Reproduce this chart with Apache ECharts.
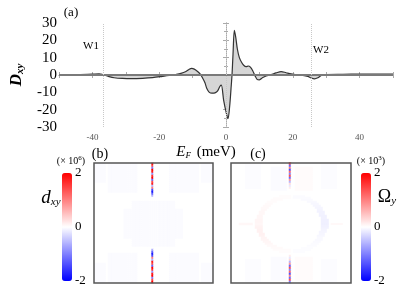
<!DOCTYPE html>
<html><head><meta charset="utf-8">
<script src="https://cdn.jsdelivr.net/npm/echarts@6/dist/echarts.min.js"></script>
<style>html,body{margin:0;padding:0;background:#fff}#c{width:416px;height:293px}</style>
</head><body><div id="c"></div>
<script>
// ---- panel (a): D_xy versus E_F ----
const energy = [-50,-45,-40,-38,-37,-36,-35,-33.5,-31,-28,-25,-22,-19,-17,-15,-13.5,-12,-11,-10.3,-9.5,-8.5,-7.7,-7,-6.3,-5.7,-5,-4.2,-3.3,-2.5,-1.8,-1.4,-0.7,0.1,0.6,1.1,1.5,1.8,2.1,2.5,2.9,3.4,4,4.7,5.3,6,6.7,7.3,8,8.7,9.3,10,11,12,13.5,15,16.5,18,19.5,21,23,24.5,25.5,26.5,27.5,28.5,30,35,40,45,50];
const dxy    = [0.3,0.3,0.5,0.6,0.3,-0.2,-0.9,-1.6,-2.0,-2.1,-1.9,-1.5,-0.8,-0.3,0.3,0.9,2.0,3.3,3.8,3.4,2.0,0.5,-1.8,-4.5,-8,-10,-10.5,-10.3,-9.2,-6.5,-5.8,-14.6,-22,-25.2,-18,-8,0,12,25.8,22,15,10,7.2,5.6,4.8,5.2,4.5,2.5,-0.5,-2.5,-2.8,-1.5,-0.6,0.2,1.2,2.0,1.3,0.6,0.1,-0.2,-0.8,-1.7,-2.2,-1.6,-0.3,0.3,0.4,0.5,0.5,0.5];
const markerEnergies = [-36.7, 0, 25.4];
const markerNames = ['W1', '', 'W2'];
const energyTickLabels = [-40, -20, 0, 20, 40];
const dxyTicks = [-30, -20, -10, 0, 10, 20, 30];
const colorbarTicks = [-2, 0, 2];

// ---- panels (b) and (c): k-space maps, 60 x 60 cells (row 0 = top) ----
const mapSize = 60;
// [colStart, colEnd, rowStart, rowEnd, value]
const dxyPatches = [[0,5,0,9,-0.035],[7,21,0,14,-0.035],[38,52,0,14,-0.035],[54,59,0,9,-0.035],
  [19,40,19,41,-0.03],[15,44,23,37,-0.03],[7,21,45,59,-0.035],[38,52,45,59,-0.035],[0,5,50,59,-0.035],[54,59,50,59,-0.035]];
const dxyStreakCol = 29;
const dxyStreakTop = [2,1.4,-1,2,1.8,-0.8,1.6,2,-1.2,1.4,1.8,-0.6,1.0,-1.4,-1.8,-1.2,-0.6];      // rows 0..16
const dxyStreakBottom = [-0.6,-1.2,-1.8,-1.4,1.0,-0.6,1.8,1.4,-1.2,2,1.6,-0.8,1.8,2,-1,1.4,2];    // rows 43..59
const omegaPatches = [[7,14,0,12,-0.025],[45,52,0,12,-0.025],[7,14,48,59,-0.025],[45,52,48,59,-0.025],
  [32,40,2,13,0.03],[20,27,2,13,-0.03],[32,40,47,58,0.03],[20,27,47,58,-0.03],[4,10,30,30,0.06],[50,55,30,30,0.07]];
// [row, leftStart, leftEnd, leftValue, rightStart, rightEnd, rightValue]
const omegaRing = [
  [16,24,29,0.02,31,36,-0.02],[17,21,29,0.025,31,39,-0.03],[18,20,25,0.03,35,40,-0.04],[19,18,22,0.035,38,42,-0.05],
  [20,17,20,0.04,40,43,-0.06],[21,16,19,0.045,41,44,-0.07],[22,15,18,0.05,42,45,-0.08],[23,15,17,0.055,43,45,-0.09],
  [24,14,16,0.06,43,46,-0.1],[25,14,16,0.065,44,46,-0.1],[26,13,15,0.07,44,47,-0.11],[27,13,15,0.07,45,47,-0.11],
  [28,12,15,0.075,45,48,-0.12],[29,12,15,0.08,45,48,-0.12],[30,12,15,0.07,45,48,-0.13],[31,12,15,0.09,45,48,-0.11],
  [32,12,15,0.1,45,48,-0.1],[33,13,15,0.11,45,47,-0.09],[34,13,15,0.11,44,47,-0.08],[35,14,16,0.11,44,46,-0.07],
  [36,14,16,0.1,43,46,-0.06],[37,15,17,0.09,43,45,-0.05],[38,15,18,0.08,42,45,-0.045],[39,16,19,0.07,41,44,-0.04],
  [40,17,20,0.06,40,43,-0.035],[41,18,22,0.05,38,42,-0.03],[42,20,25,0.04,35,40,-0.025],[43,21,29,0.03,31,39,-0.02],
  [44,24,29,0.02,31,36,-0.02]];
const omegaStreakCol = 29;
const omegaStreakTop = [1.4,-1.2,1.0,-1.4,1.2,-1.0,1.4,-1.2,0.8,-0.6,0.3,-0.2,0.15];          // rows 0..12
const omegaStreakBottom = [0.15,-0.2,0.3,-0.6,0.8,-1.2,1.4,-1.0,1.2,-1.4,1.0,-1.2,1.4,-1.0];  // rows 46..59

function buildMap(patches, ring, col, top, topStart, bottom, bottomStart) {
  const m = [];
  for (let r = 0; r < mapSize; r++) { m.push(new Array(mapSize).fill(0)); }
  patches.forEach(([c0, c1, r0, r1, v]) => {
    for (let r = r0; r <= r1; r++) for (let c = c0; c <= c1; c++) m[r][c] = v;
  });
  ring.forEach(([r, l0, l1, lv, q0, q1, qv]) => {
    for (let c = l0; c <= l1; c++) m[r][c] = lv;
    for (let c = q0; c <= q1; c++) m[r][c] = qv;
  });
  top.forEach((v, i) => { m[topStart + i][col] = v; });
  bottom.forEach((v, i) => { m[bottomStart + i][col] = v; });
  const out = [];
  for (let r = 0; r < mapSize; r++) for (let c = 0; c < mapSize; c++) out.push([c, r, m[r][c]]);
  return out;
}
const dxyMap = buildMap(dxyPatches, [], dxyStreakCol, dxyStreakTop, 0, dxyStreakBottom, 43);
const omegaMap = buildMap(omegaPatches, omegaRing, omegaStreakCol, omegaStreakTop, 0, omegaStreakBottom, 46);
const cats = Array.from({length: mapSize}, (_, i) => i);

const serif = '"Liberation Serif", "Times New Roman", serif';
const frame = '#aaaaaa';
const chart = echarts.init(document.getElementById('c'), null, {renderer: 'canvas'});

function mapAxes(g) {
  return {
    x: {type: 'category', gridIndex: g, data: cats, show: false},
    y: {type: 'category', gridIndex: g, data: cats, show: false, inverse: true}
  };
}
const mb = mapAxes(1), mc = mapAxes(2);
const labelStyle = (size, color) => ({fontFamily: serif, fontSize: size, color: color});

const option = {
  animation: false,
  backgroundColor: '#fff',
  textStyle: {fontFamily: serif},
  grid: [
    {left: 58, top: 23, width: 335, height: 104},
    {left: 94, top: 163, width: 119, height: 120, show: true, z: 5, borderColor: '#555', borderWidth: 1.5, backgroundColor: 'transparent'},
    {left: 231, top: 163, width: 120, height: 120, show: true, z: 5, borderColor: '#555', borderWidth: 1.5, backgroundColor: 'transparent'},
    {left: 62, top: 173, width: 10, height: 108},
    {left: 361, top: 173, width: 10, height: 108}
  ],
  xAxis: [
    {type: 'value', gridIndex: 0, min: -50, max: 50, interval: 10,
     axisLine: {show: true, lineStyle: {color: frame, width: 1}},
     axisTick: {show: true, inside: true, length: 3, lineStyle: {color: frame}},
     splitLine: {show: false},
     axisLabel: Object.assign({margin: 6, formatter: v => energyTickLabels.includes(v) ? String(v) : ''}, labelStyle(9, '#555')),
     name: '{e|E}{s|F} (meV)', nameLocation: 'middle', nameGap: 17,
     nameTextStyle: {fontFamily: serif, fontSize: 15, color: '#000', padding: [0, 40, 0, 0],
       rich: {e: {fontFamily: serif, fontSize: 15, fontStyle: 'italic', color: '#000'},
              s: {fontFamily: serif, fontSize: 9, fontStyle: 'italic', color: '#000', padding: [7, 2, 0, 0]}}}},
    {type: 'value', gridIndex: 0, min: -50, max: 50, interval: 10, position: 'top',
     axisLine: {show: true, lineStyle: {color: frame, width: 1}},
     axisTick: {show: true, inside: true, length: 3, lineStyle: {color: frame}},
     axisLabel: {show: false}, splitLine: {show: false}},
    mb.x, mc.x,
    {type: 'value', gridIndex: 3, show: false, min: 0, max: 1},
    {type: 'value', gridIndex: 4, show: false, min: 0, max: 1}
  ],
  yAxis: [
    {type: 'value', gridIndex: 0, min: -30, max: 30, interval: 10,
     axisLine: {show: true, lineStyle: {color: frame, width: 1}},
     axisTick: {show: true, inside: true, length: 3, lineStyle: {color: frame}},
     minorTick: {show: true, splitNumber: 2, length: 2, lineStyle: {color: frame}},
     splitLine: {show: false},
     axisLabel: Object.assign({margin: 2, formatter: v => dxyTicks.includes(v) ? String(v) : ''}, labelStyle(15, '#000')),
     name: '{d|D}{s|xy}', nameLocation: 'middle', nameRotate: 90, nameGap: 33,
     nameTextStyle: {rich: {d: {fontFamily: serif, fontSize: 17, fontWeight: 'bold', fontStyle: 'italic', color: '#000'},
                            s: {fontFamily: serif, fontSize: 11, fontWeight: 'bold', fontStyle: 'italic', color: '#000', padding: [8, 0, 0, 0]}}}},
    {type: 'value', gridIndex: 0, min: -30, max: 30, interval: 10, position: 'right',
     axisLine: {show: true, lineStyle: {color: frame, width: 1}},
     axisTick: {show: true, inside: true, length: 3, lineStyle: {color: frame}},
     minorTick: {show: true, splitNumber: 2, length: 2, lineStyle: {color: frame}},
     axisLabel: {show: false}, splitLine: {show: false}},
    mb.y, mc.y,
    {type: 'value', gridIndex: 3, min: -2, max: 2, interval: 2, position: 'right',
     axisLine: {show: false}, axisTick: {show: false}, splitLine: {show: false},
     axisLabel: Object.assign({margin: 3, formatter: v => colorbarTicks.includes(v) ? String(v) : ''}, labelStyle(13, '#000'))},
    {type: 'value', gridIndex: 4, min: -2, max: 2, interval: 2, position: 'right',
     axisLine: {show: false}, axisTick: {show: false}, splitLine: {show: false},
     axisLabel: Object.assign({margin: 3, formatter: v => colorbarTicks.includes(v) ? String(v) : ''}, labelStyle(13, '#000'))}
  ],
  visualMap: [
    {type: 'continuous', seriesIndex: 1, min: -2, max: 2, calculable: false, show: true,
     orient: 'vertical', left: 62, top: 173, itemWidth: 10, itemHeight: 108, padding: 0,
     inRange: {color: ['#0000ff', '#ffffff', '#ff0000']}},
    {type: 'continuous', seriesIndex: 2, min: -2, max: 2, calculable: false, show: true,
     orient: 'vertical', left: 361, top: 173, itemWidth: 10, itemHeight: 108, padding: 0,
     inRange: {color: ['#0000ff', '#ffffff', '#ff0000']}}
  ],
  series: [
    {type: 'line', xAxisIndex: 0, yAxisIndex: 0, smooth: 0.3, symbol: 'none',
     data: energy.map((e, i) => [e, dxy[i]]),
     lineStyle: {color: '#333', width: 1.2},
     areaStyle: {color: '#d6d6d6', origin: 0, opacity: 1},
     markLine: {silent: true, symbol: 'none', animation: false, label: {show: false},
       data: [{yAxis: 0, lineStyle: {color: '#7a7a7a', width: 2, type: 'solid'}}]
         .concat(markerEnergies.map(e => ({xAxis: e, lineStyle: {color: '#c8c8c8', width: 1, type: 'dotted'}})))}},
    {type: 'heatmap', xAxisIndex: 2, yAxisIndex: 2, data: dxyMap, emphasis: {disabled: true}},
    {type: 'heatmap', xAxisIndex: 3, yAxisIndex: 3, data: omegaMap, emphasis: {disabled: true}}
  ],
  graphic: [
    {type: 'text', x: 71, y: 13, style: {text: '(a)', font: '13px "Liberation Serif"', fill: '#000', align: 'center', verticalAlign: 'middle'}},
    {type: 'text', x: 91, y: 46, style: {text: markerNames[0], font: '11px "Liberation Serif"', fill: '#000', align: 'center', verticalAlign: 'middle'}},
    {type: 'text', x: 321, y: 50, style: {text: markerNames[2], font: '11px "Liberation Serif"', fill: '#000', align: 'center', verticalAlign: 'middle'}},
    {type: 'text', x: 100, y: 154, style: {text: '(b)', font: '14px "Liberation Serif"', fill: '#000', align: 'center', verticalAlign: 'middle'}},
    {type: 'text', x: 258, y: 154, style: {text: '(c)', font: '14px "Liberation Serif"', fill: '#000', align: 'center', verticalAlign: 'middle'}},
    {type: 'text', x: 71, y: 161, style: {text: '(× 10{sup|6})', font: '10px "Liberation Serif"', fill: '#000', align: 'center', verticalAlign: 'middle',
       rich: {sup: {font: '7px "Liberation Serif"', padding: [0, 0, 5, 0]}}}},
    {type: 'text', x: 371, y: 161, style: {text: '(× 10{sup|3})', font: '10px "Liberation Serif"', fill: '#000', align: 'center', verticalAlign: 'middle',
       rich: {sup: {font: '7px "Liberation Serif"', padding: [0, 0, 5, 0]}}}},
    {type: 'text', x: 51, y: 198, style: {text: '{m|d}{s|xy}', fill: '#000', align: 'center', verticalAlign: 'middle',
       rich: {m: {font: 'italic 19px "Liberation Serif"'}, s: {font: 'italic 11px "Liberation Serif"', padding: [9, 0, 0, 0]}}}},
    {type: 'text', x: 387, y: 197, style: {text: '{m|Ω}{s|y}', fill: '#000', align: 'center', verticalAlign: 'middle',
       rich: {m: {font: '18px "Liberation Serif"'}, s: {font: 'italic 11px "Liberation Serif"', padding: [9, 0, 0, 0]}}}},
    {type: 'text', x: 98, y: 261, style: {text: 'ky', font: 'italic 8px "Liberation Serif"', fill: '#222', align: 'center', verticalAlign: 'middle'}},
    {type: 'text', x: 117, y: 278, style: {text: 'kx', font: 'italic 8px "Liberation Serif"', fill: '#222', align: 'center', verticalAlign: 'middle'}},
    {type: 'text', x: 235, y: 261, style: {text: 'ky', font: 'italic 8px "Liberation Serif"', fill: '#222', align: 'center', verticalAlign: 'middle'}},
    {type: 'text', x: 253, y: 278, style: {text: 'kx', font: 'italic 8px "Liberation Serif"', fill: '#222', align: 'center', verticalAlign: 'middle'}}
  ]
};
chart.setOption(option);
</script>
</body></html>
